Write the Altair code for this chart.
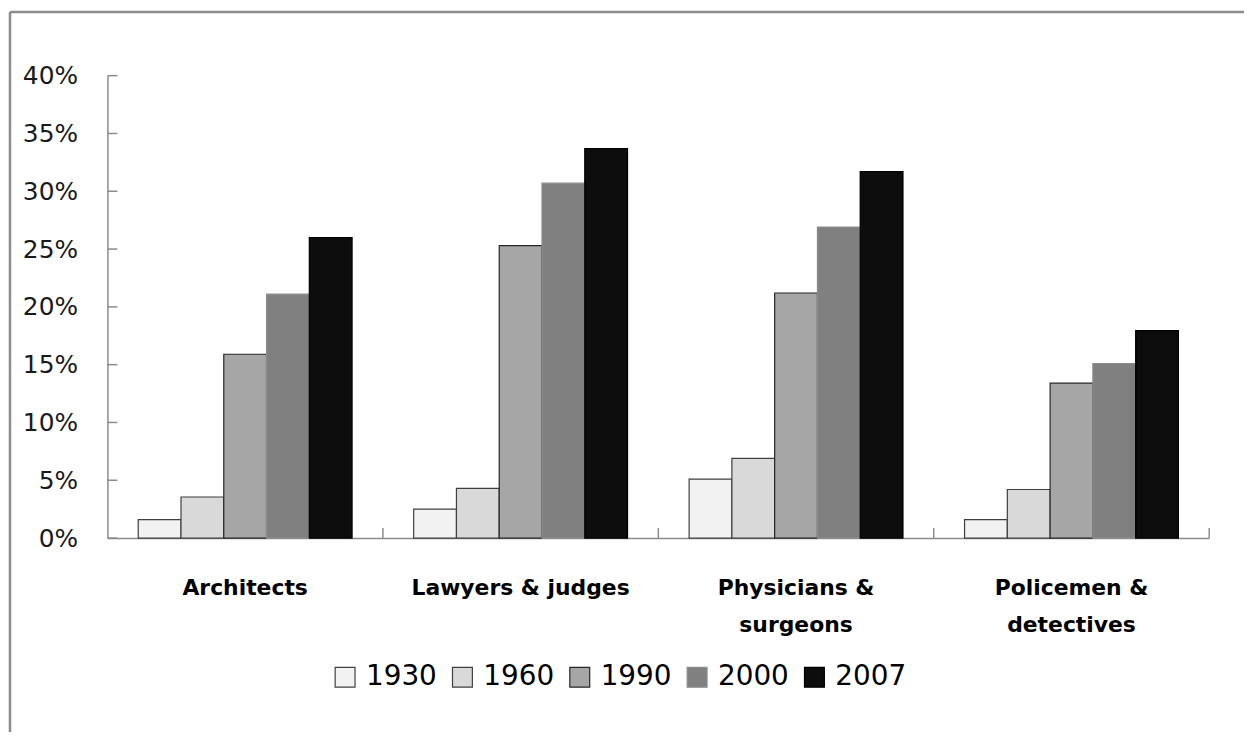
import altair as alt
import pandas as pd

occupations = ["Architects", "Lawyers & judges", "Physicians & surgeons", "Policemen & detectives"]
years = ["1930", "1960", "1990", "2000", "2007"]
v1930 = [1.6, 2.5, 5.1, 1.6]
v1960 = [3.55, 4.3, 6.9, 4.2]
v1990 = [15.9, 25.3, 21.2, 13.4]
v2000 = [21.1, 30.7, 26.9, 15.1]
v2007 = [26.0, 33.7, 31.7, 17.95]
y_ticks = [0, 5, 10, 15, 20, 25, 30, 35, 40]

fills = ["#f2f2f2", "#d9d9d9", "#a6a6a6", "#808080", "#0d0d0d"]
strokes = ["#404040", "#404040", "#262626", "#8c8c8c", "#000000"]

series = {"1930": v1930, "1960": v1960, "1990": v1990, "2000": v2000, "2007": v2007}
rows = []
for yr in years:
    for occ, val in zip(occupations, series[yr]):
        rows.append({"occupation": occ, "year": yr, "share": val})
df = pd.DataFrame(rows)

W, H = 1108, 465
AX = "#8c8c8c"

xscale = alt.Scale(domain=occupations, paddingInner=0, paddingOuter=0)
yscale = alt.Scale(domain=[0, 40])

x_axis = alt.Axis(
    title=None, labelAngle=0, labelFont="DejaVu Sans", labelFontWeight="bold",
    labelFontSize=22, labelColor="#000000", labelPadding=40, labelLineHeight=37,
    labelLimit=400, labelOverlap=False,
    labelExpr="length(datum.label) > 18 ? split(replace(datum.label, '& ', '&|'), '|') : datum.label",
    ticks=False, tickSize=0, domainColor=AX, domainWidth=1.5,
)
y_axis = alt.Axis(
    title=None, values=y_ticks, labelExpr="datum.value + '%'", grid=False,
    ticks=False, tickSize=0, labelPadding=30, labelFontSize=25,
    labelFont="DejaVu Sans", labelColor="#1a1a1a", domainColor=AX, domainWidth=1.5,
)

legend = alt.Legend(
    title=None, orient="none", legendX=225, legendY=591, direction="horizontal",
    columns=5, symbolType="square", symbolSize=400, symbolStrokeWidth=1.2,
    labelFontSize=28, labelFont="DejaVu Sans", labelColor="#000000",
    labelOffset=7, columnPadding=11, padding=0, labelLimit=200,
)

bars = alt.Chart(df).mark_bar(strokeWidth=1.2).encode(
    x=alt.X("occupation:N", scale=xscale, axis=x_axis, sort=occupations),
    xOffset=alt.XOffset("year:N", sort=years, scale=alt.Scale(paddingOuter=0.72, paddingInner=0)),
    y=alt.Y("share:Q", scale=yscale, axis=y_axis),
    fill=alt.Fill("year:N", sort=years, scale=alt.Scale(domain=years, range=fills), legend=legend),
    stroke=alt.Stroke("year:N", sort=years, scale=alt.Scale(domain=years, range=strokes), legend=legend),
)

ytick_layer = alt.Chart(pd.DataFrame({"share": y_ticks})).mark_rule(color=AX, strokeWidth=1.5).encode(
    x=alt.value(0), x2=alt.value(10),
    y=alt.Y("share:Q", scale=yscale, axis=y_axis),
)

xtick_layer = alt.Chart(pd.DataFrame({"occupation": occupations})).mark_rule(color=AX, strokeWidth=1.5).encode(
    x=alt.X("occupation:N", scale=xscale, axis=x_axis, sort=occupations, bandPosition=1),
    y=alt.value(H - 10), y2=alt.value(H),
)

one = pd.DataFrame({"k": [0]})
left_border = alt.Chart(one).mark_rule(color=AX, strokeWidth=2.5).encode(
    x=alt.value(-98), y=alt.value(-64), y2=alt.value(660)
)
top_border = alt.Chart(one).mark_rule(color=AX, strokeWidth=2.5).encode(
    x=alt.value(-98), x2=alt.value(1143), y=alt.value(-64)
)

chart = alt.layer(left_border, top_border, bars, ytick_layer, xtick_layer).properties(
    width=W, height=H, padding=0, background="white"
).configure_view(stroke=None)

chart.save("out.html", embed_options={"renderer": "svg", "actions": False})
